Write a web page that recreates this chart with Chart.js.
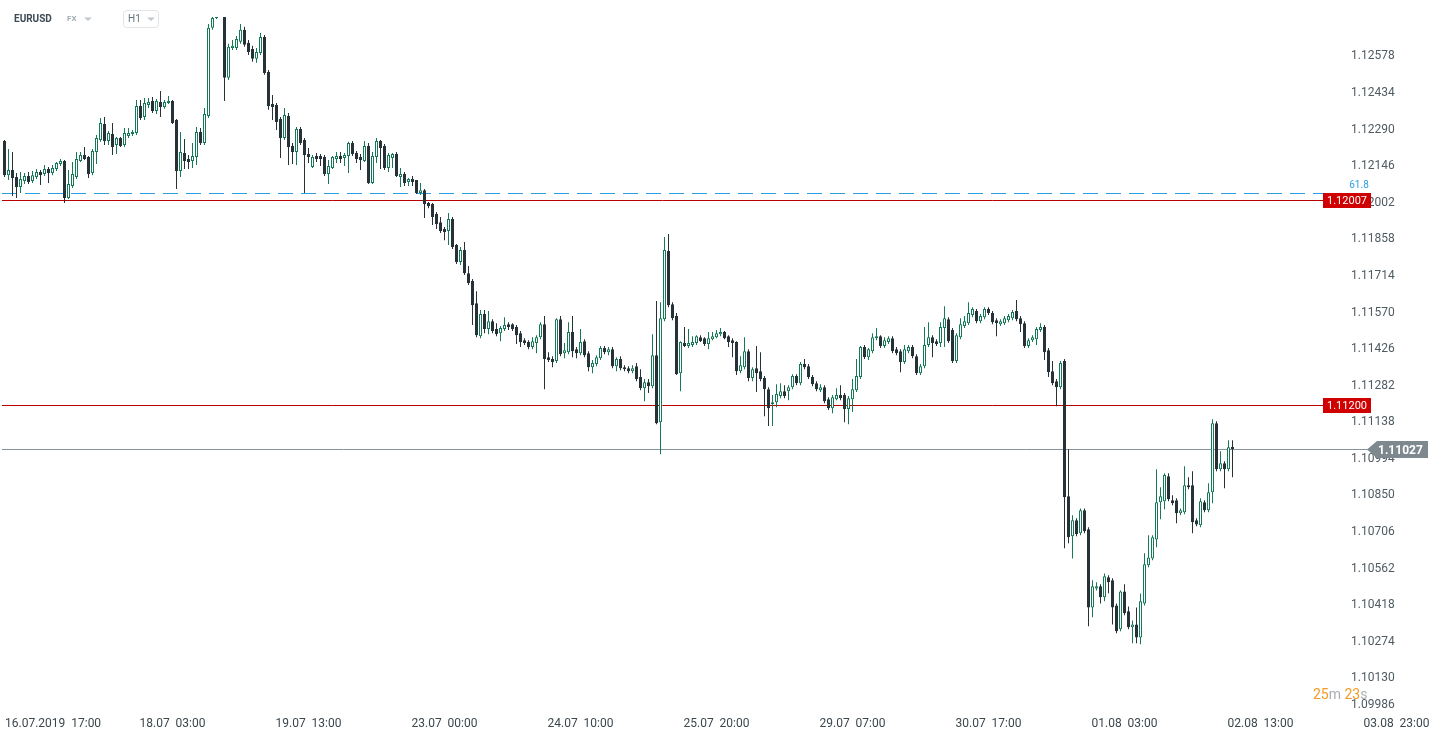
<!DOCTYPE html>
<html>
<head>
<meta charset="utf-8">
<title>EURUSD H1</title>
<script src="https://cdn.jsdelivr.net/npm/chart.js@4.4.1/dist/chart.umd.min.js"></script>
<style>
  html, body { margin: 0; padding: 0; background: #fff; }
  canvas { display: block; }
</style>
</head>
<body>
<canvas id="chart" width="1439" height="740"></canvas>
<script>
// EURUSD H1 candles, 16.07.2019 09:00 .. 02.08.2019 06:00 (weekend bars skipped)
const opens = [
  1.12239,1.12105,1.12125,1.12098,1.12058,1.12082,1.12102,1.12082,1.12098,1.12117,
  1.12109,1.12129,1.12113,1.12129,1.12149,1.12161,1.12015,1.12062,1.12098,1.12161,
  1.12184,1.12176,1.12113,1.12196,1.12243,1.12306,1.12239,1.12267,1.12224,1.12251,
  1.12224,1.12259,1.12267,1.12271,1.12377,1.12334,1.12381,1.12397,1.12358,1.12393,
  1.12373,1.12389,1.12397,1.12322,1.12121,1.12192,1.12169,1.12161,1.12176,1.12275,
  1.12232,1.12338,1.12685,1.12724,1.12854,1.12815,1.12488,1.12606,1.12606,1.12630,
  1.12677,1.12626,1.12602,1.12563,1.12586,1.12649,1.12511,1.12385,1.12381,1.12326,
  1.12251,1.12338,1.12220,1.12196,1.12287,1.12243,1.12188,1.12137,1.12180,1.12180,
  1.12176,1.12109,1.12133,1.12169,1.12180,1.12172,1.12180,1.12232,1.12192,1.12176,
  1.12161,1.12220,1.12074,1.12176,1.12239,1.12220,1.12133,1.12172,1.12188,1.12098,
  1.12109,1.12078,1.12090,1.12086,1.12035,1.12046,1.11995,1.11991,1.11952,1.11920,
  1.11893,1.11885,1.11932,1.11830,1.11763,1.11810,1.11719,1.11688,1.11601,1.11471,
  1.11558,1.11499,1.11530,1.11499,1.11483,1.11499,1.11518,1.11518,1.11507,1.11483,
  1.11455,1.11448,1.11428,1.11444,1.11467,1.11518,1.11388,1.11381,1.11373,1.11538,
  1.11404,1.11408,1.11487,1.11420,1.11404,1.11451,1.11404,1.11349,1.11361,1.11384,
  1.11424,1.11408,1.11420,1.11353,1.11381,1.11349,1.11345,1.11333,1.11353,1.11310,
  1.11266,1.11290,1.11274,1.11396,1.11132,1.11538,1.11806,1.11597,1.11550,1.11325,
  1.11444,1.11432,1.11436,1.11444,1.11467,1.11463,1.11440,1.11459,1.11467,1.11479,
  1.11487,1.11471,1.11455,1.11448,1.11333,1.11349,1.11412,1.11306,1.11345,1.11333,
  1.11306,1.11262,1.11203,1.11211,1.11235,1.11254,1.11254,1.11270,1.11314,1.11286,
  1.11361,1.11353,1.11310,1.11286,1.11258,1.11270,1.11223,1.11187,1.11223,1.11239,
  1.11239,1.11184,1.11223,1.11258,1.11310,1.11428,1.11388,1.11412,1.11463,1.11471,
  1.11432,1.11448,1.11463,1.11420,1.11412,1.11369,1.11412,1.11428,1.11392,1.11325,
  1.11353,1.11436,1.11467,1.11451,1.11444,1.11503,1.11538,1.11495,1.11373,1.11467,
  1.11511,1.11522,1.11554,1.11570,1.11530,1.11546,1.11578,1.11562,1.11534,1.11518,
  1.11522,1.11534,1.11542,1.11570,1.11542,1.11522,1.11432,1.11455,1.11459,1.11495,
  1.11507,1.11416,1.11333,1.11294,1.11270,1.11373,1.10841,1.10683,1.10746,1.10695,
  1.10786,1.10711,1.10403,1.10478,1.10486,1.10443,1.10522,1.10510,1.10411,1.10317,
  1.10466,1.10388,1.10325,1.10336,1.10285,1.10419,1.10569,1.10596,1.10671,1.10817,
  1.10821,1.10920,1.10825,1.10825,1.10774,1.10778,1.10884,1.10884,1.10746,1.10727,
  1.10817,1.10786,1.10857,1.11128,1.10947,1.10971,1.10947,1.11034
];
const highs = [
  1.12243,1.12208,1.12196,1.12113,1.12117,1.12113,1.12117,1.12121,1.12129,1.12125,
  1.12145,1.12137,1.12145,1.12157,1.12169,1.12165,1.12125,1.12157,1.12196,1.12196,
  1.12216,1.12180,1.12208,1.12263,1.12330,1.12334,1.12279,1.12310,1.12255,1.12255,
  1.12291,1.12291,1.12283,1.12401,1.12401,1.12409,1.12409,1.12413,1.12405,1.12436,
  1.12401,1.12417,1.12401,1.12326,1.12275,1.12247,1.12184,1.12232,1.12295,1.12291,
  1.12369,1.12700,1.12775,1.12893,1.12913,1.12827,1.12622,1.12637,1.12653,1.12700,
  1.12689,1.12637,1.12614,1.12606,1.12665,1.12657,1.12519,1.12421,1.12389,1.12334,
  1.12369,1.12350,1.12232,1.12295,1.12295,1.12251,1.12212,1.12184,1.12192,1.12188,
  1.12184,1.12165,1.12180,1.12196,1.12196,1.12192,1.12236,1.12239,1.12200,1.12188,
  1.12239,1.12232,1.12196,1.12251,1.12243,1.12228,1.12192,1.12192,1.12196,1.12133,
  1.12117,1.12094,1.12102,1.12086,1.12074,1.12050,1.11999,1.11995,1.11960,1.11940,
  1.11901,1.11956,1.11940,1.11834,1.11822,1.11842,1.11747,1.11696,1.11648,1.11574,
  1.11574,1.11570,1.11538,1.11522,1.11511,1.11546,1.11526,1.11522,1.11515,1.11491,
  1.11463,1.11455,1.11467,1.11475,1.11526,1.11550,1.11408,1.11392,1.11542,1.11550,
  1.11444,1.11526,1.11550,1.11428,1.11499,1.11459,1.11412,1.11377,1.11396,1.11432,
  1.11432,1.11428,1.11428,1.11388,1.11392,1.11357,1.11353,1.11357,1.11365,1.11341,
  1.11302,1.11302,1.11479,1.11609,1.11605,1.11861,1.11873,1.11605,1.11562,1.11451,
  1.11507,1.11499,1.11471,1.11475,1.11475,1.11467,1.11487,1.11487,1.11495,1.11503,
  1.11491,1.11475,1.11463,1.11451,1.11392,1.11467,1.11420,1.11349,1.11432,1.11408,
  1.11314,1.11270,1.11239,1.11282,1.11286,1.11278,1.11278,1.11321,1.11321,1.11369,
  1.11381,1.11361,1.11318,1.11294,1.11282,1.11278,1.11231,1.11239,1.11266,1.11278,
  1.11247,1.11235,1.11302,1.11381,1.11432,1.11436,1.11424,1.11483,1.11503,1.11475,
  1.11467,1.11471,1.11471,1.11428,1.11420,1.11436,1.11436,1.11436,1.11400,1.11361,
  1.11507,1.11526,1.11475,1.11459,1.11526,1.11589,1.11546,1.11503,1.11483,1.11542,
  1.11550,1.11605,1.11585,1.11578,1.11558,1.11585,1.11585,1.11570,1.11542,1.11538,
  1.11550,1.11558,1.11574,1.11613,1.11550,1.11530,1.11463,1.11475,1.11507,1.11522,
  1.11515,1.11424,1.11373,1.11302,1.11373,1.11381,1.11026,1.10766,1.10754,1.10793,
  1.10793,1.10719,1.10510,1.10502,1.10494,1.10537,1.10530,1.10518,1.10419,1.10470,
  1.10494,1.10407,1.10352,1.10403,1.10458,1.10616,1.10687,1.10687,1.10947,1.10876,
  1.10931,1.10931,1.10845,1.10833,1.10793,1.10959,1.10916,1.10939,1.10754,1.10833,
  1.10825,1.10892,1.11144,1.11136,1.11018,1.10979,1.11061,1.11061
];
const lows = [
  1.12098,1.12086,1.12023,1.12015,1.12035,1.12070,1.12070,1.12074,1.12090,1.12066,
  1.12102,1.12074,1.12105,1.12121,1.12141,1.11995,1.12011,1.12054,1.12090,1.12157,
  1.12165,1.12094,1.12105,1.12149,1.12236,1.12224,1.12224,1.12184,1.12188,1.12216,
  1.12216,1.12251,1.12259,1.12263,1.12322,1.12322,1.12369,1.12350,1.12346,1.12334,
  1.12366,1.12385,1.12306,1.12050,1.12098,1.12129,1.12129,1.12133,1.12145,1.12224,
  1.12224,1.12330,1.12677,1.12720,1.12795,1.12397,1.12480,1.12598,1.12598,1.12622,
  1.12610,1.12578,1.12551,1.12547,1.12578,1.12500,1.12362,1.12322,1.12283,1.12172,
  1.12243,1.12145,1.12149,1.12145,1.12224,1.12035,1.12153,1.12133,1.12157,1.12141,
  1.12102,1.12070,1.12129,1.12153,1.12153,1.12141,1.12113,1.12180,1.12153,1.12125,
  1.12157,1.12070,1.12070,1.12153,1.12129,1.12125,1.12117,1.12133,1.12098,1.12058,
  1.12062,1.12062,1.12062,1.12031,1.12027,1.11936,1.11975,1.11909,1.11893,1.11877,
  1.11849,1.11830,1.11814,1.11755,1.11751,1.11712,1.11672,1.11515,1.11467,1.11463,
  1.11483,1.11479,1.11483,1.11471,1.11451,1.11491,1.11495,1.11491,1.11440,1.11428,
  1.11436,1.11420,1.11420,1.11404,1.11459,1.11262,1.11369,1.11349,1.11365,1.11392,
  1.11384,1.11400,1.11388,1.11384,1.11396,1.11388,1.11333,1.11325,1.11353,1.11377,
  1.11400,1.11396,1.11345,1.11333,1.11337,1.11333,1.11325,1.11325,1.11294,1.11258,
  1.11215,1.11247,1.11266,1.11124,1.11006,1.11530,1.11585,1.11534,1.11318,1.11254,
  1.11428,1.11424,1.11428,1.11436,1.11448,1.11432,1.11420,1.11455,1.11463,1.11471,
  1.11459,1.11428,1.11388,1.11318,1.11325,1.11341,1.11294,1.11294,1.11251,1.11294,
  1.11156,1.11117,1.11117,1.11191,1.11227,1.11227,1.11219,1.11262,1.11278,1.11278,
  1.11341,1.11302,1.11274,1.11254,1.11251,1.11207,1.11180,1.11168,1.11219,1.11219,
  1.11132,1.11124,1.11172,1.11251,1.11302,1.11381,1.11377,1.11404,1.11455,1.11424,
  1.11424,1.11440,1.11404,1.11396,1.11329,1.11361,1.11404,1.11384,1.11318,1.11318,
  1.11345,1.11428,1.11388,1.11432,1.11428,1.11428,1.11444,1.11365,1.11365,1.11459,
  1.11503,1.11515,1.11546,1.11522,1.11522,1.11538,1.11554,1.11518,1.11471,1.11511,
  1.11515,1.11526,1.11534,1.11530,1.11487,1.11424,1.11424,1.11448,1.11436,1.11487,
  1.11377,1.11310,1.11278,1.11195,1.11262,1.10636,1.10656,1.10596,1.10683,1.10687,
  1.10695,1.10329,1.10364,1.10470,1.10419,1.10427,1.10459,1.10336,1.10301,1.10309,
  1.10372,1.10317,1.10262,1.10262,1.10258,1.10411,1.10561,1.10589,1.10640,1.10750,
  1.10790,1.10821,1.10805,1.10734,1.10766,1.10770,1.10868,1.10695,1.10723,1.10719,
  1.10778,1.10778,1.10813,1.10939,1.10939,1.10872,1.10939,1.10916
];
const closes = [
  1.12105,1.12125,1.12094,1.12058,1.12090,1.12102,1.12078,1.12105,1.12117,1.12105,
  1.12129,1.12113,1.12133,1.12153,1.12161,1.12015,1.12070,1.12109,1.12169,1.12184,
  1.12169,1.12109,1.12200,1.12251,1.12310,1.12239,1.12271,1.12216,1.12251,1.12220,
  1.12271,1.12271,1.12275,1.12377,1.12330,1.12389,1.12393,1.12358,1.12397,1.12373,
  1.12393,1.12397,1.12310,1.12121,1.12196,1.12161,1.12157,1.12180,1.12275,1.12232,
  1.12346,1.12685,1.12724,1.12854,1.12815,1.12488,1.12610,1.12614,1.12641,1.12677,
  1.12618,1.12590,1.12563,1.12590,1.12649,1.12507,1.12377,1.12373,1.12314,1.12251,
  1.12342,1.12216,1.12196,1.12287,1.12232,1.12184,1.12176,1.12176,1.12169,1.12169,
  1.12109,1.12141,1.12176,1.12180,1.12169,1.12184,1.12232,1.12188,1.12169,1.12165,
  1.12220,1.12074,1.12180,1.12239,1.12212,1.12133,1.12184,1.12188,1.12102,1.12109,
  1.12074,1.12090,1.12078,1.12035,1.12046,1.11991,1.11983,1.11940,1.11912,1.11885,
  1.11881,1.11932,1.11822,1.11763,1.11810,1.11719,1.11680,1.11593,1.11475,1.11558,
  1.11499,1.11530,1.11491,1.11479,1.11503,1.11515,1.11507,1.11499,1.11475,1.11448,
  1.11444,1.11428,1.11451,1.11467,1.11518,1.11381,1.11377,1.11369,1.11538,1.11400,
  1.11416,1.11487,1.11412,1.11404,1.11448,1.11396,1.11349,1.11365,1.11388,1.11424,
  1.11408,1.11420,1.11353,1.11381,1.11345,1.11341,1.11333,1.11345,1.11302,1.11266,
  1.11290,1.11274,1.11396,1.11128,1.11542,1.11810,1.11593,1.11542,1.11321,1.11448,
  1.11432,1.11444,1.11448,1.11471,1.11451,1.11440,1.11463,1.11471,1.11483,1.11487,
  1.11463,1.11448,1.11444,1.11333,1.11357,1.11412,1.11306,1.11341,1.11325,1.11302,
  1.11262,1.11187,1.11211,1.11243,1.11254,1.11235,1.11270,1.11314,1.11286,1.11361,
  1.11349,1.11310,1.11282,1.11262,1.11270,1.11215,1.11187,1.11231,1.11239,1.11227,
  1.11184,1.11227,1.11262,1.11314,1.11428,1.11388,1.11420,1.11467,1.11471,1.11432,
  1.11455,1.11463,1.11412,1.11404,1.11369,1.11420,1.11428,1.11392,1.11325,1.11353,
  1.11436,1.11467,1.11444,1.11440,1.11507,1.11542,1.11451,1.11373,1.11475,1.11518,
  1.11530,1.11562,1.11578,1.11530,1.11550,1.11578,1.11562,1.11526,1.11522,1.11530,
  1.11542,1.11550,1.11566,1.11538,1.11518,1.11432,1.11455,1.11467,1.11499,1.11507,
  1.11408,1.11329,1.11286,1.11270,1.11365,1.10837,1.10679,1.10746,1.10691,1.10786,
  1.10703,1.10403,1.10486,1.10486,1.10443,1.10526,1.10502,1.10403,1.10309,1.10466,
  1.10380,1.10325,1.10336,1.10285,1.10427,1.10573,1.10600,1.10679,1.10817,1.10841,
  1.10924,1.10829,1.10813,1.10774,1.10786,1.10884,1.10876,1.10738,1.10730,1.10821,
  1.10786,1.10857,1.11128,1.10947,1.10971,1.10947,1.11034,1.11027
];

// x axis: bar index of each time label, and the label text
const timeTickIdx = [8, 42, 76, 110, 144, 178, 212, 246, 280, 314, 348];
const timeLabels = ['16.07.2019  17:00', '18.07  03:00', '19.07  13:00', '23.07  00:00', '24.07  10:00',
  '25.07  20:00', '29.07  07:00', '30.07  17:00', '01.08  03:00', '02.08  13:00', '03.08  23:00'];

// price axis ticks
const priceTicks = [1.09986, 1.10130, 1.10274, 1.10418, 1.10562, 1.10706, 1.10850, 1.10994, 1.11138,
  1.11282, 1.11426, 1.11570, 1.11714, 1.11858, 1.12002, 1.12146, 1.12290, 1.12434, 1.12578];

// horizontal levels
const levelLines = [1.12007, 1.11200];
const fibLevel = 1.12035;
const fibLabel = '61.8';
const lastPrice = 1.11027;

const UP = '#177a57', DOWN = '#263238';
const isUp = i => closes[i] >= opens[i];

const wickData = highs.map((h, i) => ({ x: i, y: [lows[i], h] }));
const bodyData = opens.map((o, i) => ({ x: i, y: [o, closes[i]] }));

function crisp(v) { return Math.round(v) + 0.5; }

const overlay = {
  id: 'overlay',
  beforeDatasetsDraw(chart) {
    const { ctx, scales: { y } } = chart;
    ctx.save();
    ctx.lineWidth = 1;
    // fib dashed
    let py = crisp(y.getPixelForValue(fibLevel));
    ctx.strokeStyle = '#2d9ee0';
    ctx.setLineDash([15, 8]);
    ctx.beginPath(); ctx.moveTo(2, py); ctx.lineTo(1370, py); ctx.stroke();
    ctx.setLineDash([]);
    // red levels
    ctx.strokeStyle = '#b80000';
    levelLines.forEach(v => {
      const p = crisp(y.getPixelForValue(v));
      ctx.beginPath(); ctx.moveTo(2, p); ctx.lineTo(1323, p); ctx.stroke();
    });
    // last price
    py = crisp(y.getPixelForValue(lastPrice));
    ctx.strokeStyle = '#87939a';
    ctx.beginPath(); ctx.moveTo(2, py); ctx.lineTo(1368, py); ctx.stroke();
    ctx.restore();
  },
  afterDraw(chart) {
    const { ctx, scales: { x, y } } = chart;
    ctx.save();
    // price labels
    ctx.font = '12px Roboto, "Noto Sans", sans-serif';
    ctx.fillStyle = '#4f5b62';
    ctx.textAlign = 'left';
    ctx.textBaseline = 'middle';
    priceTicks.forEach(v => {
      const p = Math.min(y.getPixelForValue(v), 703) + 1.5;
      ctx.fillText(v.toFixed(5), 1351, p);
    });
    // time labels
    ctx.textAlign = 'center';
    ctx.fillStyle = '#3c474d';
    timeTickIdx.forEach((idx, k) => {
      const w = ctx.measureText(timeLabels[k]).width;
      const px = Math.max(x.getPixelForValue(idx), 5 + w / 2);
      ctx.fillText(timeLabels[k], px, 723.5);
    });
    // level boxes
    ctx.font = '11px Roboto, "Noto Sans", sans-serif';
    levelLines.forEach(v => {
      const p = Math.round(y.getPixelForValue(v));
      ctx.fillStyle = '#d00000';
      ctx.fillRect(1323, p - 7, 48, 15);
      ctx.fillStyle = '#ffffff';
      ctx.fillText(v.toFixed(5), 1347, p + 1);
    });
    // fib label
    ctx.fillStyle = '#2d9ee0';
    ctx.font = '10px Roboto, "Noto Sans", sans-serif';
    ctx.fillText(fibLabel, 1359, Math.round(y.getPixelForValue(fibLevel)) - 8);
    // last price tag
    const lp = Math.round(y.getPixelForValue(lastPrice));
    ctx.fillStyle = '#7d898f';
    ctx.beginPath();
    ctx.moveTo(1367, lp + 0.5);
    ctx.lineTo(1377, lp - 8);
    ctx.lineTo(1428, lp - 8);
    ctx.lineTo(1428, lp + 9);
    ctx.lineTo(1377, lp + 9);
    ctx.closePath();
    ctx.fill();
    ctx.fillStyle = '#ffffff';
    ctx.font = 'bold 12px Roboto, "Noto Sans", sans-serif';
    ctx.textAlign = 'left';
    ctx.fillText(lastPrice.toFixed(5), 1378, lp + 1.5);
    // header
    ctx.textBaseline = 'middle';
    ctx.fillStyle = '#3d4a52';
    ctx.font = 'bold 10px Roboto, "Noto Sans", sans-serif';
    ctx.fillText('EURUSD', 14, 19);
    ctx.fillStyle = '#a3adb3';
    ctx.font = 'bold 8px Roboto, "Noto Sans", sans-serif';
    ctx.fillText('FX', 67, 19);
    ctx.fillStyle = '#c2cacf';
    ctx.beginPath(); ctx.moveTo(84, 17.5); ctx.lineTo(92, 17.5); ctx.lineTo(88, 21); ctx.closePath(); ctx.fill();
    ctx.strokeStyle = '#e1e5e8';
    ctx.beginPath(); ctx.roundRect(123.5, 10.5, 35, 17, 3); ctx.stroke();
    ctx.fillStyle = '#64737b';
    ctx.font = '10px Roboto, "Noto Sans", sans-serif';
    ctx.fillText('H1', 128, 19.5);
    ctx.fillStyle = '#c2cacf';
    ctx.beginPath(); ctx.moveTo(147, 17.5); ctx.lineTo(155, 17.5); ctx.lineTo(151, 21); ctx.closePath(); ctx.fill();
    // candle timer
    ctx.font = '14px Roboto, "Noto Sans", sans-serif';
    let tx = 1313;
    [['25', '#f59a23'], ['m ', '#a9b0b4'], ['23', '#f59a23'], ['s', '#a9b0b4']].forEach(([t, c]) => {
      ctx.fillStyle = c;
      ctx.fillText(t, tx, 695);
      tx += ctx.measureText(t).width;
    });
    ctx.restore();
  }
};

new Chart(document.getElementById('chart'), {
  type: 'bar',
  data: {
    datasets: [
      {
        label: 'wick',
        data: wickData,
        order: 2,
        grouped: false,
        barThickness: 1,
        inflateAmount: 0,
        borderWidth: 0,
        backgroundColor: ctx => isUp(ctx.dataIndex) ? UP : DOWN
      },
      {
        label: 'body',
        data: bodyData,
        order: 1,
        grouped: false,
        barThickness: 3,
        minBarLength: 2,
        inflateAmount: 0,
        borderWidth: 1,
        borderSkipped: false,
        borderColor: ctx => isUp(ctx.dataIndex) ? UP : DOWN,
        backgroundColor: ctx => isUp(ctx.dataIndex) ? '#ffffff' : DOWN
      }
    ]
  },
  options: {
    responsive: false,
    animation: false,
    devicePixelRatio: 1,
    layout: { padding: { left: 2, top: 17, right: 99, bottom: 26 } },
    plugins: { legend: { display: false }, tooltip: { enabled: false } },
    scales: {
      x: { type: 'linear', min: -0.625, max: 333.875, offset: false, display: false },
      y: { type: 'linear', min: 1.099835, max: 1.127276, display: false }
    }
  },
  plugins: [overlay]
});
</script>
</body>
</html>
